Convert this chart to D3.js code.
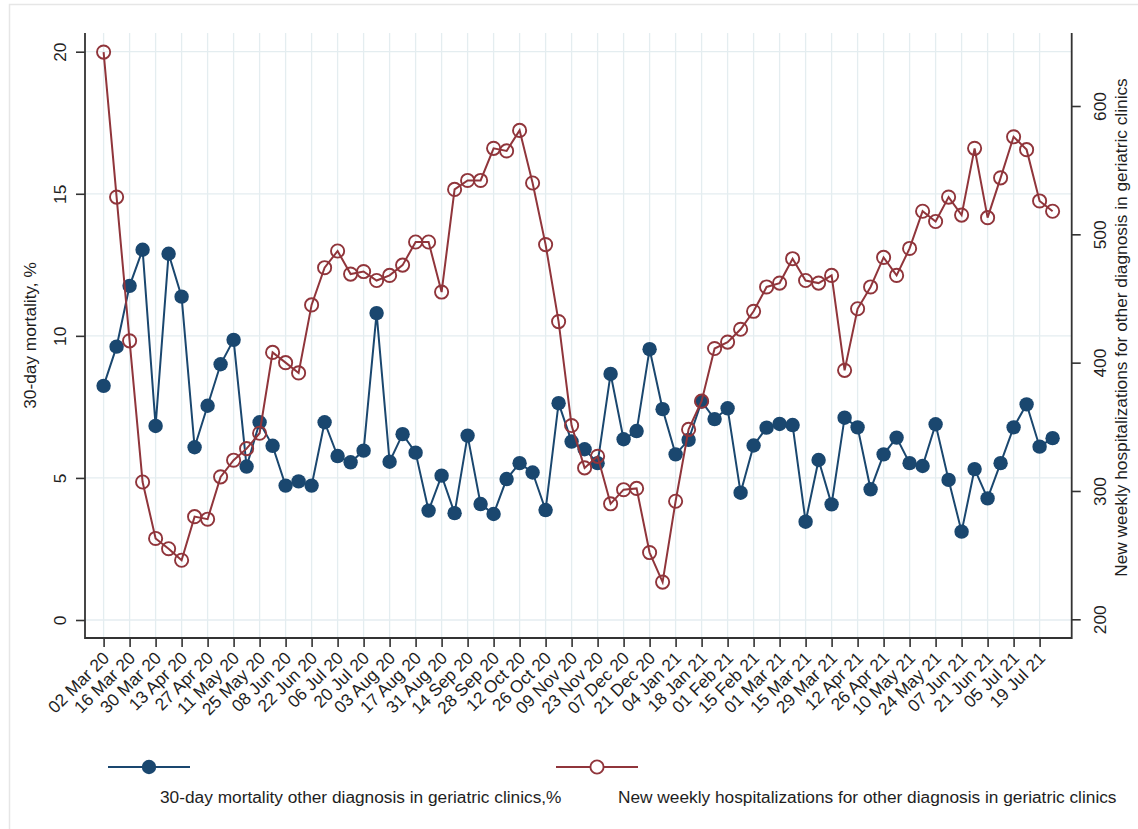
<!DOCTYPE html>
<html>
<head>
<meta charset="utf-8">
<script src="https://cdn.jsdelivr.net/npm/d3@7"></script>
<style>
  html, body { margin: 0; padding: 0; background: #fff; }
  svg { display: block; font-family: "Liberation Sans", Arial, sans-serif; }
</style>
</head>
<body>
<svg id="chart" width="1138" height="829"></svg>
<script>
// ---------- data ----------
const startDate = "2020-03-02";   // first weekly observation (Monday)
const mortality = [
  8.24, 9.62, 11.76, 13.03, 6.83, 12.89, 11.38, 6.08, 7.54, 9.00,
  9.86, 5.40, 6.96, 6.13, 4.73, 4.88, 4.73, 6.96, 5.77, 5.55,
  5.96, 10.80, 5.57, 6.54, 5.89, 3.85, 5.08, 3.76, 6.49, 4.08,
  3.73, 4.96, 5.52, 5.19, 3.87, 7.63, 6.28, 6.01, 5.52, 8.66,
  6.36, 6.65, 9.53, 7.42, 5.83, 6.34, 7.69, 7.07, 7.45, 4.48,
  6.14, 6.77, 6.90, 6.86, 3.46, 5.63, 4.07, 7.12, 6.78, 4.60,
  5.83, 6.42, 5.52, 5.42, 6.89, 4.93, 3.11, 5.31, 4.28, 5.52,
  6.78, 7.59, 6.10, 6.40
];
const hospitalizations = [
  642, 529, 417, 307, 263, 255, 246, 280, 278, 311,
  324, 333, 345, 408, 400, 392, 445, 474, 487, 469,
  471, 464, 468, 476, 494, 494, 455, 535, 542, 542,
  567, 565, 581, 540, 492, 432, 351, 318, 327, 290,
  301, 302, 252, 229, 292, 348, 370, 411, 416, 426,
  440, 459, 462, 481, 464, 462, 468, 394, 442, 459,
  482, 468, 489, 518, 510, 529, 515, 567, 513, 544,
  576, 566, 526, 518
];
const leftTicks = [0, 5, 10, 15, 20];
const rightTicks = [200, 300, 400, 500, 600];
const leftTitle = "30-day mortality, %";
const rightTitle = "New weekly hospitalizations for other diagnosis in geriatric clinics";
const legendLabels = [
  "30-day mortality other diagnosis in geriatric clinics,%",
  "New weekly hospitalizations for other diagnosis in geriatric clinics"
];

// ---------- setup ----------
const parse = d3.timeParse("%Y-%m-%d");
const d0 = parse(startDate);
const dates = mortality.map((_, i) => d3.timeDay.offset(d0, 7 * i));
const tickDates = dates.filter((_, i) => i % 2 === 0);

const blue = "#1a476f", red = "#90353b";
const gridCol = "#e4edf0", axisCol = "#333", textCol = "#1e1e1e";
const plot = { left: 85, right: 1071.7, top: 33, bottom: 638 };
const fontFam = '"Liberation Sans", Arial, sans-serif';

const svg = d3.select("#chart");

const x = d3.scaleTime().domain([dates[0], dates[dates.length - 1]]).range([103.6, 1052.6]);
const yL = d3.scaleLinear().domain([0, 20]).range([620, 51.7]);
const yR = d3.scaleLinear().domain([200, 600]).range([619.3, 106]);

// outer frame
svg.append("rect").attr("x", 9.5).attr("y", 4.5).attr("width", 1140).attr("height", 840)
  .attr("fill", "none").attr("stroke", "#e6e6e6").attr("stroke-width", 1.5);

// gridlines
const grid = svg.append("g");
grid.selectAll("line.v").data(tickDates).join("line")
  .attr("x1", d => x(d)).attr("x2", d => x(d))
  .attr("y1", plot.top).attr("y2", plot.bottom)
  .attr("stroke", gridCol).attr("stroke-width", 1.3);
grid.selectAll("line.h").data(leftTicks).join("line")
  .attr("x1", plot.left).attr("x2", plot.right)
  .attr("y1", d => yL(d)).attr("y2", d => yL(d))
  .attr("stroke", gridCol).attr("stroke-width", 1.3);

// axes
const fs = "17.3px";
const gL = svg.append("g").attr("transform", `translate(${plot.left},0)`)
  .call(d3.axisLeft(yL).tickValues(leftTicks).tickSize(9).tickSizeOuter(0).tickFormat(d3.format("d")));
const gR = svg.append("g").attr("transform", `translate(${plot.right},0)`)
  .call(d3.axisRight(yR).tickValues(rightTicks).tickSize(9).tickSizeOuter(0).tickFormat(d3.format("d")));
const gB = svg.append("g").attr("transform", `translate(0,${plot.bottom})`)
  .call(d3.axisBottom(x).tickValues(tickDates).tickSize(9).tickSizeOuter(0).tickFormat(d3.timeFormat("%d %b %y")));

[gL, gR, gB].forEach(g => {
  g.select(".domain").remove();
  g.selectAll(".tick line").attr("stroke", axisCol).attr("stroke-width", 1.6);
  g.selectAll("text").attr("fill", textCol).style("font-size", fs).style("font-family", fontFam);
});
gL.selectAll(".tick text").attr("x", null).attr("dy", null)
  .attr("text-anchor", "middle").attr("dominant-baseline", "central")
  .attr("transform", "translate(-25,0) rotate(-90)");
gR.selectAll(".tick text").attr("x", null).attr("dy", null)
  .attr("text-anchor", "middle").attr("dominant-baseline", "central")
  .attr("transform", "translate(28,0) rotate(-90)");
gB.selectAll(".tick text").attr("y", null).attr("dy", null)
  .attr("text-anchor", "end").attr("dominant-baseline", "central")
  .attr("transform", "translate(2,17) rotate(-45)");

// axis lines
const axes = svg.append("g").attr("stroke", axisCol).attr("stroke-width", 1.8).attr("fill", "none");
axes.append("path").attr("d", `M${plot.left},${plot.top}V${plot.bottom}H${plot.right}V${plot.top}`);

// axis titles
const midY = (plot.top + plot.bottom) / 2;
svg.append("text").attr("transform", `translate(30,${midY}) rotate(-90)`)
  .attr("text-anchor", "middle").attr("dominant-baseline", "central")
  .style("font-size", fs).attr("fill", textCol).text(leftTitle);
svg.append("text").attr("transform", `translate(1121,${midY - 8}) rotate(-90)`)
  .attr("text-anchor", "middle").attr("dominant-baseline", "central")
  .style("font-size", fs).attr("fill", textCol).text(rightTitle);

// series
const lineL = d3.line().x((d, i) => x(dates[i])).y(d => yL(d));
const lineR = d3.line().x((d, i) => x(dates[i])).y(d => yR(d));

svg.append("path").datum(mortality).attr("d", lineL)
  .attr("fill", "none").attr("stroke", blue).attr("stroke-width", 2);
svg.append("g").selectAll("circle").data(mortality).join("circle")
  .attr("cx", (d, i) => x(dates[i])).attr("cy", d => yL(d)).attr("r", 7.2)
  .attr("fill", blue);

svg.append("path").datum(hospitalizations).attr("d", lineR)
  .attr("fill", "none").attr("stroke", red).attr("stroke-width", 2);
svg.append("g").selectAll("circle").data(hospitalizations).join("circle")
  .attr("cx", (d, i) => x(dates[i])).attr("cy", d => yR(d)).attr("r", 6.6)
  .attr("fill", "none").attr("stroke", red).attr("stroke-width", 1.9);

// legend
const legY = 767;
const leg = svg.append("g");
leg.append("line").attr("x1", 108).attr("x2", 190).attr("y1", legY).attr("y2", legY)
  .attr("stroke", blue).attr("stroke-width", 2);
leg.append("circle").attr("cx", 149).attr("cy", legY).attr("r", 7.2).attr("fill", blue);
leg.append("line").attr("x1", 556).attr("x2", 638).attr("y1", legY).attr("y2", legY)
  .attr("stroke", red).attr("stroke-width", 2);
leg.append("circle").attr("cx", 597).attr("cy", legY).attr("r", 6.6)
  .attr("fill", "#fff").attr("stroke", red).attr("stroke-width", 1.9);
leg.append("text").attr("x", 160).attr("y", 797).attr("dominant-baseline", "central")
  .style("font-size", fs).attr("fill", textCol).text(legendLabels[0]);
leg.append("text").attr("x", 618).attr("y", 797).attr("dominant-baseline", "central")
  .style("font-size", fs).attr("fill", textCol).text(legendLabels[1]);
</script>
</body>
</html>
